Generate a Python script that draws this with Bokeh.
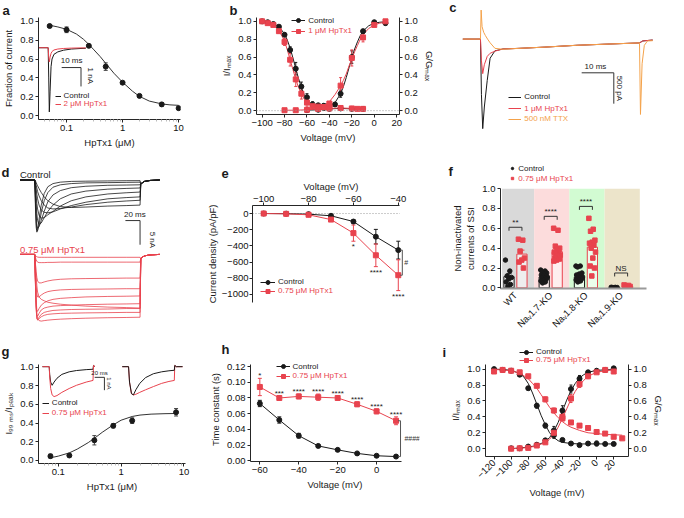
import math
from bokeh.plotting import figure
from bokeh.layouts import row, column
from bokeh.models import (Range1d, LinearScale, FixedTicker, NumeralTickFormatter,
                          CustomJSTickFormatter, LinearAxis, Label, Legend, LegendItem,
                          Whisker, TeeHead, ColumnDataSource, Span)
from bokeh.core.properties import value
from bokeh.embed import file_html
from bokeh.resources import INLINE

# ======================= DATA =======================
# (a) concentration-response
a_conc = [0.05, 0.1, 0.25, 0.5, 1, 2, 5, 10]
a_frac = [0.95, 0.91, 0.74, 0.52, 0.35, 0.21, 0.12, 0.08]
a_err = [0.015, 0.03, 0.015, 0.04, 0.012, 0.012, 0.02, 0.01]
a_fit_x = [0.05, 0.07, 0.1, 0.15, 0.2, 0.25, 0.3, 0.4, 0.5, 0.7, 1, 1.5, 2, 3, 5, 7, 10]
a_fit_y = [0.958, 0.94, 0.915, 0.865, 0.81, 0.755, 0.705, 0.625, 0.555, 0.45, 0.355, 0.26, 0.205, 0.155, 0.125, 0.115, 0.11]
a_tr_ms = [0, 5, 5.3, 5.6, 6.0, 6.5, 7, 8, 10, 13, 17, 22, 24.5]
a_tr_ctrl = [0, 0, -1.6, -3.4, -2.3, -1.0, -0.6, -0.35, -0.22, -0.13, -0.07, -0.04, -0.03]
a_tr_hp = [0, 0, -0.5, -0.75, -0.5, -0.3, -0.2, -0.12, -0.07, -0.04, -0.02, -0.01, -0.01]

# (b) inactivation / activation
b_inact_v = [-100, -95, -90, -85, -80, -75, -70, -65, -60, -55, -50, -45, -40]
b_inact_ctrl = [1.0, 0.99, 0.97, 0.94, 0.85, 0.68, 0.47, 0.27, 0.15, 0.07, 0.06, 0.055, 0.05]
b_inact_ctrl_err = [0.005, 0.01, 0.01, 0.015, 0.02, 0.035, 0.07, 0.05, 0.04, 0.03, 0.02, 0.02, 0.02]
b_inact_hp = [1.0, 0.98, 0.96, 0.89, 0.77, 0.57, 0.35, 0.19, 0.09, 0.05, 0.045, 0.04, 0.04]
b_inact_hp_err = [0.005, 0.01, 0.01, 0.02, 0.04, 0.07, 0.08, 0.06, 0.05, 0.03, 0.02, 0.02, 0.02]
b_act_ctrl_v = [-45, -40, -35, -30, -20, -10, 0, 10]
b_act_ctrl = [0.03, 0.05, 0.07, 0.19, 0.6, 0.89, 0.99, 0.98]
b_act_ctrl_err = [0.01, 0.01, 0.02, 0.04, 0.07, 0.02, 0.01, 0.02]
b_act_hp_v = [-50, -45, -40, -30, -20, -10, 0, 10]
b_act_hp = [0.03, 0.04, 0.08, 0.28, 0.59, 0.82, 0.96, 1.0]
b_act_hp_err = [0.01, 0.01, 0.02, 0.09, 0.09, 0.05, 0.02, 0.02]
b_pers_ctrl_v = [-60, -50, -40, -30, -20, -10]
b_pers_ctrl = [0.005, 0.01, 0.02, 0.025, 0.02, 0.02]
b_pers_hp_v = [-80, -70, -60, -50, -40, -30, -20, -15, -10]
b_pers_hp = [0.005, 0.005, 0.01, 0.02, 0.025, 0.03, 0.025, 0.02, 0.02]
b_fit_inact_v = [-100, -95, -90, -85, -80, -77.5, -75, -72.5, -70, -67.5, -65, -62.5, -60, -57.5, -55, -50, -45, -40]
b_fit_inact_ctrl = [1.0, 0.99, 0.975, 0.94, 0.86, 0.79, 0.70, 0.59, 0.47, 0.36, 0.26, 0.18, 0.125, 0.09, 0.07, 0.055, 0.05, 0.05]
b_fit_inact_hp = [1.0, 0.985, 0.96, 0.9, 0.78, 0.68, 0.57, 0.46, 0.35, 0.26, 0.19, 0.13, 0.09, 0.07, 0.06, 0.045, 0.04, 0.04]
b_fit_act_v = [-50, -45, -40, -35, -30, -27.5, -25, -22.5, -20, -17.5, -15, -12.5, -10, -5, 0, 5, 10]
b_fit_act_ctrl = [0.03, 0.035, 0.045, 0.09, 0.19, 0.27, 0.37, 0.48, 0.59, 0.69, 0.77, 0.84, 0.89, 0.95, 0.98, 0.99, 0.995]
b_fit_act_hp = [0.04, 0.06, 0.1, 0.18, 0.28, 0.34, 0.41, 0.5, 0.58, 0.66, 0.73, 0.8, 0.85, 0.92, 0.96, 0.98, 0.99]

# (c) current traces (ms, pA)
c_ms = [-5.5, 0, 0.3, 0.7, 1.2, 2.1, 3.0, 4.5, 7, 12, 20, 30, 40, 49.5, 50.5, 53.6]
c_ctrl = [0, 0, -900, -1450, -1100, -670, -310, -190, -160, -150, -130, -100, -80, -62, -30, -15]
c_hp = [0, 0, -350, -560, -415, -280, -230, -195, -160, -150, -130, -100, -80, -62, -30, -15]
c_ttx_ms = [-5.5, 0, 0.2, 0.5, 1.0, 1.5, 2.2, 3, 4.5, 7, 12, 20, 30, 40, 49.5, 49.8, 50.3, 51, 52, 53.6]
c_ttx = [0, 0, 470, 200, 110, 60, 0, -60, -150, -165, -150, -130, -100, -80, -62, -1220, -400, -100, -30, -26]

# (d) current families (ms, nA)
d_ms = [-20, 0, 1, 2, 3, 4, 6, 9, 13, 18, 25, 35, 50, 70, 100, 125, 144]
d_tail_ms = [145, 150, 158, 171]
d_tail = [-0.8, -0.3, -0.1, 0]
d_ctrl = [
    [0, 0, -5.4, -9.7, -10.8, -10.3, -8.1, -5.2, -2.8, -1.4, -0.75, -0.45, -0.3, -0.25, -0.2, -0.15, -0.14],
    [0, 0, -4.3, -8.6, -10.4, -10.5, -9.2, -6.8, -4.3, -2.6, -1.5, -1.0, -0.75, -0.6, -0.55, -0.5, -0.46],
    [0, 0, -3.2, -7.0, -9.5, -10.0, -9.7, -8.4, -6.5, -4.5, -3.1, -2.2, -1.6, -1.3, -1.1, -1.05, -1.0],
    [0, 0, -2.2, -4.9, -7.0, -8.4, -9.2, -8.9, -7.8, -6.5, -5.2, -3.9, -2.9, -2.3, -1.9, -1.75, -1.66],
    [0, 0, -1.3, -3.2, -4.9, -6.0, -7.3, -7.9, -7.8, -7.2, -6.5, -5.4, -4.3, -3.5, -2.9, -2.65, -2.5],
    [0, 0, -0.8, -1.9, -3.0, -3.9, -5.2, -6.2, -6.7, -6.8, -6.6, -6.0, -5.3, -4.6, -3.9, -3.65, -3.5],
    [0, 0, -0.4, -1.1, -1.7, -2.4, -3.3, -4.3, -5.2, -5.8, -6.0, -5.9, -5.6, -5.1, -4.6, -4.35, -4.2],
    [0, 0, -0.2, -0.5, -0.9, -1.2, -1.8, -2.6, -3.5, -4.3, -5.0, -5.5, -5.7, -5.6, -5.4, -5.3, -5.2],
]
d_hp = [
    [0, 0, -5, -10, -12.5, -13.3, -13.7, -13.8, -13.7, -13.6, -13.5, -13.4, -13.3, -13.2, -13.1, -13.05, -13.0],
    [0, 0, -6, -11, -13.2, -13.6, -13.3, -12.9, -12.6, -12.4, -12.3, -12.2, -12.15, -12.1, -12.05, -12.0, -12.0],
    [0, 0, -6, -11.2, -13.3, -13.5, -13, -12.4, -12, -11.8, -11.6, -11.5, -11.4, -11.35, -11.3, -11.2, -11.2],
    [0, 0, -5.5, -10.5, -12.5, -12.8, -12.2, -11.5, -11.1, -10.9, -10.7, -10.6, -10.5, -10.4, -10.3, -10.25, -10.2],
    [0, 0, -5, -9.5, -11.5, -11.8, -11.2, -10.5, -10, -9.6, -9.3, -9.1, -8.95, -8.8, -8.7, -8.65, -8.6],
    [0, 0, -3.5, -6.5, -8.2, -8.8, -8.8, -8.4, -8.0, -7.7, -7.5, -7.35, -7.25, -7.2, -7.15, -7.1, -7.1],
    [0, 0, -1.8, -3.6, -4.8, -5.5, -5.9, -5.9, -5.7, -5.5, -5.3, -5.15, -5.05, -5.0, -4.95, -4.9, -4.9],
    [0, 0, -0.6, -1.1, -1.4, -1.6, -1.7, -1.7, -1.7, -1.65, -1.65, -1.6, -1.6, -1.6, -1.6, -1.6, -1.6],
    [0, 0, -0.2, -0.4, -0.5, -0.55, -0.6, -0.6, -0.6, -0.6, -0.6, -0.6, -0.6, -0.6, -0.6, -0.6, -0.6],
    [0, 0, -2, -4.5, -6.5, -7.8, -8.8, -9.3, -9.6, -9.9, -10.1, -10.3, -10.5, -10.7, -10.9, -11.0, -11.1],
]

# (e) current density
e_v = [-100, -90, -80, -70, -60, -50, -40]
e_ctrl = [0, -2, -8, -28, -99, -286, -452]
e_ctrl_err = [2, 3, 5, 8, 20, 90, 110]
e_hp = [0, -4, -16, -75, -242, -516, -762]
e_hp_err = [2, 4, 8, 15, 100, 140, 190]
e_sig_v = [-60, -50, -40]
e_sig = ["*", "****", "****"]

# (f) non-inactivated currents
f_cats = ["WT", "Na\u1d651.7-KO", "Na\u1d651.8-KO", "Na\u1d651.9-KO"]
f_ctrl_pts = [[0.28, 0.17, 0.12, 0.105, 0.09, 0.06, 0.035, 0.015],
              [0.18, 0.17, 0.16, 0.15, 0.14, 0.13, 0.12, 0.12, 0.11, 0.10, 0.10, 0.09, 0.08, 0.07, 0.06, 0.05],
              [0.22, 0.22, 0.21, 0.15, 0.14, 0.13, 0.12, 0.12, 0.11, 0.10, 0.10, 0.09, 0.08, 0.08, 0.07, 0.06],
              [0.006, 0.005, 0.004, 0.004, 0.003, 0.003]]
f_hp_pts = [[0.49, 0.48, 0.37, 0.30, 0.28, 0.26, 0.20],
            [0.60, 0.58, 0.42, 0.40, 0.38, 0.36, 0.35, 0.34, 0.33, 0.32, 0.30, 0.29, 0.28, 0.27],
            [0.70, 0.59, 0.57, 0.48, 0.46, 0.45, 0.43, 0.40, 0.36, 0.30, 0.22, 0.20, 0.12],
            [0.03, 0.025, 0.02, 0.015, 0.01, 0.008]]
f_ctrl_mean = [0.113, 0.11, 0.11, 0.004]
f_ctrl_sem = [0.03, 0.01, 0.012, 0.001]
f_hp_mean = [0.34, 0.365, 0.41, 0.016]
f_hp_sem = [0.04, 0.03, 0.045, 0.004]
f_sig = ["**", "****", "****", "NS"]
f_bg = ["#d9d9d9", "#fcdcdc", "#d2fbd2", "#ece4ca"]

# (g) I99ms/Ipeak
g_conc = [0.075, 0.15, 0.375, 0.75, 1.5, 7.5]
g_val = [0.045, 0.052, 0.215, 0.37, 0.425, 0.515]
g_err = [0.02, 0.012, 0.05, 0.022, 0.03, 0.04]
g_fit_x = [0.075, 0.1, 0.15, 0.2, 0.3, 0.4, 0.5, 0.75, 1, 1.5, 2, 3, 5, 7.5]
g_fit_y = [0.027, 0.045, 0.08, 0.12, 0.19, 0.25, 0.3, 0.38, 0.43, 0.47, 0.485, 0.495, 0.5, 0.502]
g_l_ms = [0, 14, 15, 17, 20, 24, 30, 40, 55, 70, 90, 104, 105, 108]
g_l_ctrl = [0, 0, -0.6, -1.2, -1.45, -1.2, -0.9, -0.6, -0.4, -0.3, -0.23, -0.2, 0.1, 0]
g_l_hp = [0, 0, -0.8, -1.7, -2.2, -2.33, -2.25, -2.0, -1.7, -1.45, -1.2, -1.07, 0.1, 0]
g_r_ms = [164, 177, 179, 183, 187, 192, 200, 212, 228, 245, 260, 271, 272, 275, 288]
g_r_ctrl = [0, 0, -1.2, -2.1, -2.2, -1.8, -1.3, -0.85, -0.55, -0.4, -0.32, -0.28, 0.1, 0, 0]
g_r_hp = [0, 0, -1.2, -2.1, -2.2, -2.15, -2.0, -1.8, -1.55, -1.3, -1.15, -1.07, 0.1, 0, 0]

# (h) time constants
h_v = [-60, -50, -40, -30, -20, -10, 0, 10]
h_ctrl = [0.073, 0.052, 0.032, 0.019, 0.014, 0.0095, 0.0065, 0.0055]
h_ctrl_err = [0.004, 0.004, 0.003, 0.001, 0.001, 0.001, 0.001, 0.0008]
h_hp = [0.094, 0.080, 0.082, 0.081, 0.080, 0.072, 0.063, 0.051]
h_hp_err = [0.011, 0.002, 0.003, 0.004, 0.002, 0.003, 0.003, 0.005]
h_sig = ["*", "***", "****", "****", "****", "****", "****", "****"]

# (i) inactivation / activation
i_inact_v = [-120, -110, -100, -90, -80, -70, -60, -50, -40, -30, -20, -10, 0, 10, 20]
i_inact_ctrl = [1.0, 0.99, 0.98, 0.93, 0.76, 0.54, 0.29, 0.17, 0.11, 0.065, 0.045, 0.065, 0.065, 0.06, 0.06]
i_inact_ctrl_err = [0.01, 0.01, 0.01, 0.02, 0.02, 0.03, 0.03, 0.04, 0.01, 0.01, 0.02, 0.02, 0.03, 0.01, 0.02]
i_inact_hp_v = [-120, -110, -100, -90, -80, -70, -60, -50, -40, -30, -20, -10, 0, 10, 20, 30]
i_inact_hp = [0.97, 0.99, 0.98, 0.96, 0.91, 0.79, 0.62, 0.48, 0.38, 0.33, 0.29, 0.26, 0.21, 0.19, 0.15, 0.13]
i_inact_hp_err = [0.01, 0.01, 0.01, 0.02, 0.02, 0.02, 0.03, 0.03, 0.03, 0.02, 0.01, 0.01, 0.01, 0.01, 0.01, 0.01]
i_act_v = [-100, -90, -80, -70, -60, -50, -40, -30, -20, -10, 0, 10, 20]
i_act_ctrl = [0.005, 0.005, 0.027, 0.05, 0.105, 0.23, 0.48, 0.75, 0.88, 0.96, 0.98, 0.99, 1.01]
i_act_ctrl_err = [0.005, 0.005, 0.01, 0.01, 0.02, 0.05, 0.06, 0.05, 0.04, 0.02, 0.01, 0.01, 0.02]
i_act_hp = [0.0, 0.005, 0.01, 0.04, 0.08, 0.2, 0.4, 0.63, 0.81, 0.91, 0.96, 0.99, 0.97]
i_act_hp_err = [0.005, 0.005, 0.01, 0.01, 0.02, 0.03, 0.04, 0.05, 0.04, 0.03, 0.01, 0.01, 0.02]
i_fit_inact_v = [-120, -110, -100, -90, -85, -80, -75, -70, -65, -60, -55, -50, -45, -40, -30, -20, 0, 20]
i_fit_inact_ctrl = [1.0, 0.995, 0.985, 0.945, 0.9, 0.82, 0.7, 0.56, 0.42, 0.3, 0.2, 0.14, 0.1, 0.08, 0.065, 0.06, 0.06, 0.06]
i_fit_inact_hp_v = [-120, -110, -100, -90, -80, -75, -70, -65, -60, -55, -50, -45, -40, -35, -30, -20, -10, 0, 10, 20, 30]
i_fit_inact_hp = [0.995, 0.99, 0.98, 0.95, 0.88, 0.82, 0.76, 0.68, 0.6, 0.52, 0.45, 0.39, 0.34, 0.3, 0.27, 0.23, 0.2, 0.19, 0.18, 0.175, 0.17]
i_fit_act_v = [-100, -90, -80, -70, -60, -55, -50, -45, -40, -35, -30, -25, -20, -15, -10, 0, 10, 20]
i_fit_act_ctrl = [0.0, 0.01, 0.02, 0.04, 0.09, 0.14, 0.22, 0.33, 0.47, 0.61, 0.73, 0.82, 0.89, 0.93, 0.96, 0.985, 0.99, 0.995]
i_fit_act_hp = [0.0, 0.005, 0.015, 0.035, 0.08, 0.12, 0.18, 0.27, 0.38, 0.5, 0.62, 0.72, 0.8, 0.86, 0.91, 0.96, 0.98, 0.99]

# ======================= STYLE / HELPERS =======================
SX = 666 / 684
SY = 500 / 518
FONT = "Liberation Sans"
BLACK = "#1a1a1a"
RED = "#e8434e"
ORANGE = "#f4a24a"
AXC = "#262626"
EBC = "#444444"
TICKFS = "9.5px"
LABFS = "9.5px"
LEGFS = "8px"
NAN = float("nan")
GEOM = {}


def mkfig(cell, frame, **kw):
    cx0, cy0, cx1, cy1 = cell
    fl, ft, fr, fb = frame
    X0, X1 = round(cx0 * SX), round(cx1 * SX)
    Y0, Y1 = round(cy0 * SY), round(cy1 * SY)
    W, H = X1 - X0, Y1 - Y0
    L = round(fl * SX) - X0
    R = X1 - round(fr * SX)
    T = round(ft * SY) - Y0
    B = Y1 - round(fb * SY)
    p = figure(width=W, height=H, min_border_left=L, min_border_right=R,
               min_border_top=T, min_border_bottom=B,
               toolbar_location=None, output_backend="svg", **kw)
    p.outline_line_color = None
    p.grid.visible = False
    GEOM[p.id] = (X0, Y0, W, H, L, T, R, B)
    return p


def header(cell):
    return mkfig(cell, cell, x_axis_type=None, y_axis_type=None,
                 x_range=Range1d(0, 1), y_range=Range1d(0, 1))


def base_style(p, lab_standoff=3, tick_standoff=2):
    for ax in p.axis:
        ax.axis_line_color = AXC
        ax.axis_line_width = 1
        ax.major_tick_line_color = AXC
        ax.major_tick_out = 3
        ax.major_tick_in = 0
        ax.minor_tick_line_color = None
        ax.major_label_text_font = FONT
        ax.major_label_text_font_size = TICKFS
        ax.major_label_text_color = "#111111"
        ax.major_label_standoff = tick_standoff
        ax.axis_label_text_font = FONT
        ax.axis_label_text_font_size = LABFS
        ax.axis_label_text_font_style = "normal"
        ax.axis_label_text_color = BLACK
        ax.axis_label_standoff = lab_standoff


def scr(p, ax, ay):
    X0, Y0, W, H, L, T, R, B = GEOM[p.id]
    cx = ax * SX - X0
    cy = ay * SY - Y0
    return cx - L, (H - B) - cy


def lab(p, ax, ay, text, fs=LABFS, color=BLACK, align="left", baseline="middle", angle=0.0, style="normal"):
    sx, sy = scr(p, ax, ay)
    p.add_layout(Label(x=sx, y=sy, x_units="screen", y_units="screen", text=text,
                       text_font=FONT, text_font_size=fs, text_color=color,
                       text_align=align, text_baseline=baseline, angle=angle,
                       text_font_style=style))


def letter(p, ax, ay, t):
    lab(p, ax, ay, t, fs="13px", style="bold")


def title_letter(p, ax, t, standoff=0):
    X0, Y0, W, H, L, T, R, B = GEOM[p.id]
    p.title.text = t
    p.title.align = "left"
    p.title.offset = ax * SX - X0 - L
    p.title.text_font = FONT
    p.title.text_font_size = "13px"
    p.title.text_font_style = "bold"
    p.title.text_color = BLACK
    p.title.standoff = standoff


def leg(p, gx, gy, rends, text, color, gw):
    sx, sy = scr(p, gx, gy)
    lg = Legend(items=[LegendItem(label=value(text), renderers=rends)], location=(sx, sy - 5),
                padding=0, margin=0, spacing=0, border_line_color=None, background_fill_alpha=0.0,
                glyph_width=max(3, round(gw * SX)), glyph_height=10, label_height=10, label_standoff=3,
                label_text_font=FONT, label_text_font_size=LEGFS, label_text_color=color)
    p.add_layout(lg)


def ebar(p, xs, ys, es, color, head=4, lower=True, **kw):
    up = [y + e for y, e in zip(ys, es)]
    lo = [y - e for y, e in zip(ys, es)] if lower else list(ys)
    src = ColumnDataSource(dict(x=list(xs), up=up, lo=lo))
    w = Whisker(source=src, base="x", upper="up", lower="lo", line_color=color, line_width=1,
                upper_head=TeeHead(size=head, line_color=color, line_width=1),
                lower_head=(TeeHead(size=head, line_color=color, line_width=1) if lower else None), **kw)
    p.add_layout(w)


def minus_fmt():
    return CustomJSTickFormatter(code="return (tick < 0 ? '\u2212' : '') + Math.abs(tick).toFixed(0);")


def iso(x):
    return column(x)


UNIT_TICKS = [0, 0.2, 0.4, 0.6, 0.8, 1.0]
IMAX = "I/I\u2098\u2090\u2093"
GMAX = "G/G\u2098\u2090\u2093"

# ======================= PANEL a =======================
pa = mkfig((0, 0, 224, 170), (38, 15, 185, 123), x_axis_type="log",
           x_range=Range1d(0.0316, 10.8), y_range=Range1d(-0.04, 1.04))
pa.extra_x_ranges = {"ms": Range1d(0, 73.5)}
pa.extra_x_scales = {"ms": LinearScale()}
pa.extra_y_ranges = {"nA": Range1d(-3.8, 1.6)}
pa.xaxis.ticker = FixedTicker(ticks=[0.1, 1, 10],
                              minor_ticks=[0.04, 0.05, 0.06, 0.07, 0.08, 0.09, 0.2, 0.3, 0.4, 0.5, 0.6, 0.7,
                                           0.8, 0.9, 2, 3, 4, 5, 6, 7, 8, 9])
pa.xaxis.formatter = CustomJSTickFormatter(code="return tick >= 1 ? tick.toFixed(0) : tick.toFixed(1);")
pa.yaxis.ticker = FixedTicker(ticks=UNIT_TICKS)
pa.yaxis.formatter = NumeralTickFormatter(format="0.0")
pa.xaxis.axis_label = "HpTx1 (\u03bcM)"
pa.yaxis.axis_label = "Fraction of current"
base_style(pa)
pa.xaxis.minor_tick_line_color = "#bbbbbb"
pa.xaxis.minor_tick_out = 2
pa.xaxis.minor_tick_in = 0

ra_c = pa.line(a_tr_ms, a_tr_ctrl, x_range_name="ms", y_range_name="nA", line_color=BLACK, line_width=1)
ra_h = pa.line(a_tr_ms, a_tr_hp, x_range_name="ms", y_range_name="nA", line_color=RED, line_width=1)
A_BAR_MS, A_BAR_NA = 10, 1
a_bx, a_by = 12, -1.05
pa.line([a_bx, a_bx + A_BAR_MS, a_bx + A_BAR_MS], [a_by, a_by, a_by - A_BAR_NA],
        x_range_name="ms", y_range_name="nA", line_color="#333333", line_width=1)
pa.line(a_fit_x, a_fit_y, line_color="#333333", line_width=1)
ebar(pa, a_conc, a_frac, a_err, EBC)
pa.scatter(a_conc, a_frac, size=5, marker="circle", color=BLACK)
lab(pa, 72, 67, "10 ms", fs="8px", align="center", baseline="bottom")
lab(pa, 91, 78, "1 nA", fs="8px", align="center", angle=-math.pi / 2)
leg(pa, 55, 99, [ra_c], "Control", BLACK, 6)
leg(pa, 55, 107.5, [ra_h], "2 \u03bcM HpTx1", RED, 6)
title_letter(pa, 1, "a")

# ======================= PANEL b =======================
pb = mkfig((224, 0, 456, 170), (257, 17, 410, 118),
           x_range=Range1d(-105, 22.5), y_range=Range1d(-0.043, 1.043))
pb.add_layout(LinearAxis(axis_label=GMAX), "right")
pb.xaxis.ticker = FixedTicker(ticks=[-100, -80, -60, -40, -20, 0, 20])
pb.xaxis.formatter = minus_fmt()
pb.yaxis.ticker = FixedTicker(ticks=UNIT_TICKS)
pb.yaxis.formatter = NumeralTickFormatter(format="0.0")
pb.xaxis.axis_label = "Voltage (mV)"
pb.yaxis[0].axis_label = IMAX
base_style(pb)
pb.add_layout(Span(location=0, dimension="width", line_color="#9a9a9a", line_dash="1 2", line_width=1))

lb_c = pb.line(b_fit_inact_v, b_fit_inact_ctrl, line_color=BLACK, line_width=1)
pb.line(b_fit_act_v, b_fit_act_ctrl, line_color=BLACK, line_width=1)
pb.line(b_pers_ctrl_v, b_pers_ctrl, line_color=BLACK, line_width=1)
lb_h = pb.line(b_fit_inact_v, b_fit_inact_hp, line_color=RED, line_width=1)
pb.line(b_fit_act_v, b_fit_act_hp, line_color=RED, line_width=1)
pb.line(b_pers_hp_v, b_pers_hp, line_color=RED, line_width=1)
ebar(pb, b_inact_v, b_inact_ctrl, b_inact_ctrl_err, BLACK, head=3)
ebar(pb, b_act_ctrl_v, b_act_ctrl, b_act_ctrl_err, BLACK, head=3)
ebar(pb, b_inact_v, b_inact_hp, b_inact_hp_err, RED, head=3)
ebar(pb, b_act_hp_v, b_act_hp, b_act_hp_err, RED, head=3)
sb_c = pb.scatter(b_inact_v, b_inact_ctrl, marker="circle", size=5, color=BLACK)
pb.scatter(b_act_ctrl_v, b_act_ctrl, marker="circle", size=5, color=BLACK)
pb.scatter(b_pers_ctrl_v, b_pers_ctrl, marker="circle", size=5, color=BLACK)
sb_h = pb.scatter(b_inact_v, b_inact_hp, marker="square", size=5, color=RED)
pb.scatter(b_act_hp_v, b_act_hp, marker="square", size=5, color=RED)
pb.scatter(b_pers_hp_v, b_pers_hp, marker="square", size=5, color=RED)
leg(pb, 293, 21, [lb_c, sb_c], "Control", BLACK, 14)
leg(pb, 293, 32, [lb_h, sb_h], "1 \u03bcM HpTx1", RED, 14)
title_letter(pb, 229, "b")

# ======================= PANEL c =======================
pc = mkfig((456, 0, 684, 170), (456, 0, 684, 170), x_axis_type=None, y_axis_type=None,
           x_range=Range1d(-11.2, 57.9), y_range=Range1d(-2031, 625))
rc1 = pc.line(c_ms, c_ctrl, line_color=BLACK, line_width=1)
rc2 = pc.line(c_ms, c_hp, line_color=RED, line_width=1)
rc3 = pc.line(c_ttx_ms, c_ttx, line_color=ORANGE, line_width=1)
C_BAR_MS, C_BAR_PA = 10, 500
c_bx, c_by = 31.5, -546
pc.line([c_bx, c_bx + C_BAR_MS, c_bx + C_BAR_MS], [c_by, c_by, c_by - C_BAR_PA], line_color="#333333", line_width=1)
lab(pc, 611, 73, "10 ms", fs="8px", align="center", baseline="bottom")
lab(pc, 636, 91, "500 pA", fs="8px", align="center", angle=-math.pi / 2)
leg(pc, 522, 100, [rc1], "Control", BLACK, 13)
leg(pc, 522, 112, [rc2], "1 \u03bcM HpTx1", RED, 13)
leg(pc, 522, 123, [rc3], "500 nM TTX", ORANGE, 13)
letter(pc, 461, 7, "c")

# ======================= PANEL d =======================
pd_ = mkfig((0, 170, 208, 350), (0, 170, 208, 350), x_axis_type=None, y_axis_type=None,
            x_range=Range1d(-46.7, 230.7), y_range=Range1d(-32.8, 3.2))
pd_.extra_y_ranges = {"hp": Range1d(-17.4, 18.6)}
for tr in d_ctrl:
    pd_.line(d_ms + d_tail_ms, tr + d_tail, line_color=BLACK, line_width=0.8)
for tr in d_hp:
    pd_.line(d_ms + d_tail_ms, tr + d_tail, y_range_name="hp", line_color=RED, line_width=0.8)
D_BAR_MS, D_BAR_NA = 20, 5
d_bx, d_by = 124, -8.4
pd_.line([d_bx, d_bx + D_BAR_MS, d_bx + D_BAR_MS], [d_by, d_by, d_by - D_BAR_NA], line_color="#333333", line_width=1)
lab(pd_, 138, 226, "20 ms", fs="8px", align="center", baseline="bottom")
lab(pd_, 156.5, 248, "5 nA", fs="8px", align="center", angle=-math.pi / 2)
lab(pd_, 20, 180, "Control", fs="9.5px")
lab(pd_, 20, 258, "0.75 \u03bcM HpTx1", fs="9.5px", color=RED)
letter(pd_, 1, 178, "d")

# ======================= PANEL e =======================
E_XB = (-105, -39.3)
pe = mkfig((208, 170, 455, 350), (256.7, 212.7, 420, 313.3), x_axis_location="above",
           x_range=Range1d(-105, -35.0), y_range=Range1d(-1099, 99))
pe.xaxis.ticker = FixedTicker(ticks=[-100, -80, -60, -40])
pe.xaxis.formatter = minus_fmt()
pe.xaxis.bounds = E_XB
pe.yaxis.ticker = FixedTicker(ticks=[0, -200, -400, -600, -800, -1000])
pe.yaxis.formatter = minus_fmt()
pe.xaxis.axis_label = "Voltage (mV)"
pe.yaxis.axis_label = "Current density (pA/pF)"
base_style(pe, lab_standoff=1, tick_standoff=1)
pe.line(list(E_XB), [0, 0], line_color="#9a9a9a", line_dash="1 2", line_width=1)
le_c = pe.line(e_v, e_ctrl, line_color=BLACK, line_width=1)
le_h = pe.line(e_v, e_hp, line_color=RED, line_width=1)
ebar(pe, e_v, e_ctrl, e_ctrl_err, BLACK, head=4)
ebar(pe, e_v, e_hp, e_hp_err, RED, head=4)
se_c = pe.scatter(e_v, e_ctrl, marker="circle", size=5, color=BLACK)
se_h = pe.scatter(e_v, e_hp, marker="square", size=5, color=RED)
e_idx = [e_v.index(v) for v in e_sig_v]
pe.text(x=e_sig_v, y=[e_hp[k] - e_hp_err[k] for k in e_idx], text=e_sig, text_font=value(FONT),
        text_font_size="8px", text_align="center", text_baseline="top", y_offset=1, text_color=BLACK)
e_bx = e_v[-1] + 1.8
pe.line([e_bx - 1.0, e_bx, e_bx, e_bx - 1.0], [e_ctrl[-1], e_ctrl[-1], e_hp[-1], e_hp[-1]],
        line_color="#555555", line_width=1)
pe.add_layout(Label(x=e_bx + 0.9, y=(e_ctrl[-1] + e_hp[-1]) / 2, text="#", text_font=FONT,
                    text_font_size="7px", text_align="left", text_baseline="middle", text_color="#333333"))
leg(pe, 265, 291.7, [le_c, se_c], "Control", BLACK, 15)
leg(pe, 265, 301, [le_h, se_h], "0.75 \u03bcM HpTx1", RED, 15)
title_letter(pe, 225, "e")

# ======================= PANEL f =======================
hf = header((455, 170, 684, 191))
hf_c = hf.scatter([NAN], [NAN], marker="circle", size=4.5, color=BLACK)
hf_h = hf.scatter([NAN], [NAN], marker="square", size=4.5, color=RED)
leg(hf, 523, 174.5, [hf_c], "Control", BLACK, 6)
leg(hf, 523, 184.5, [hf_h], "0.75 \u03bcM HpTx1", RED, 6)
letter(hf, 460, 177, "f")

pf = mkfig((455, 191, 684, 350), (513.3, 194.3, 663, 298.3),
           x_range=Range1d(-0.425, 3.72), y_range=Range1d(-0.006, 1.0))
pf.xaxis.ticker = FixedTicker(ticks=[0, 1, 2, 3])
pf.xaxis.formatter = CustomJSTickFormatter(args=dict(labels=f_cats), code="return labels[Math.round(tick)];")
pf.yaxis.ticker = FixedTicker(ticks=UNIT_TICKS)
pf.yaxis.formatter = NumeralTickFormatter(format="0.0")
pf.yaxis.axis_label = "Non-inactivated\ncurrents of SSI"
base_style(pf)
pf.xaxis.major_label_orientation = math.pi / 4
pf.xaxis.major_label_text_font_size = "9.5px"
pf.xaxis.major_tick_line_color = None
pf.xaxis.axis_line_color = "#9a9a9a"
pf.xaxis.axis_line_width = 2
f_idx = list(range(len(f_cats)))
pf.quad(left=[max(i - 0.47, -0.38) for i in f_idx], right=[i + 0.53 for i in f_idx], bottom=0, top=1.0,
        fill_color=f_bg, line_color=None, level="image")
OFF, BW = 0.184, 0.29
pf.vbar(x=[i - OFF for i in f_idx], top=f_ctrl_mean, bottom=0, width=BW, fill_color="white",
        fill_alpha=0.55, line_color=BLACK, line_width=1)
pf.vbar(x=[i + OFF for i in f_idx], top=f_hp_mean, bottom=0, width=BW, fill_color="white",
        fill_alpha=0.55, line_color=RED, line_width=1)
ebar(pf, [i - OFF for i in f_idx], f_ctrl_mean, f_ctrl_sem, BLACK, head=5, lower=False)
ebar(pf, [i + OFF for i in f_idx], f_hp_mean, f_hp_sem, RED, head=5, lower=False)


def jit(n):
    return [(((k * 0.618034) % 1.0) - 0.5) * 0.2 for k in range(n)]


fx_c, fy_c, fx_h, fy_h = [], [], [], []
for i in f_idx:
    for j, v in zip(jit(len(f_ctrl_pts[i])), f_ctrl_pts[i]):
        fx_c.append(i - OFF + j)
        fy_c.append(v)
    for j, v in zip(jit(len(f_hp_pts[i])), f_hp_pts[i]):
        fx_h.append(i + OFF + j)
        fy_h.append(v)
pf.scatter(fx_c, fy_c, marker="circle", size=4.5, color=BLACK)
pf.scatter(fx_h, fy_h, marker="square", size=4.5, color=RED)
f_tops = [max(f_ctrl_pts[i] + f_hp_pts[i]) + 0.12 for i in f_idx]
for i in f_idx:
    t = f_tops[i]
    pf.line([i - OFF, i - OFF, i + OFF, i + OFF], [t - 0.035, t, t, t - 0.035], line_color="#333333", line_width=1)
pf.text(x=f_idx, y=f_tops, text=f_sig, text_font=value(FONT), text_font_size="8px", text_align="center",
        text_baseline="bottom", y_offset=0, text_color=BLACK)

# ======================= PANEL g =======================
hg = header((0, 350, 210, 372))
letter(hg, 1, 364, "g")
pg = mkfig((0, 372, 210, 518), (39, 376.7, 190, 479.3), x_axis_type="log",
           x_range=Range1d(0.0484, 10.6), y_range=Range1d(-0.034, 1.027))
pg.extra_x_ranges = {"ms": Range1d(-8, 294)}
pg.extra_x_scales = {"ms": LinearScale()}
pg.extra_y_ranges = {"nA": Range1d(-7.54, 0.17)}
pg.xaxis.ticker = FixedTicker(ticks=[0.1, 1, 10],
                              minor_ticks=[0.06, 0.07, 0.08, 0.09, 0.2, 0.3, 0.4, 0.5, 0.6, 0.7,
                                           0.8, 0.9, 2, 3, 4, 5, 6, 7, 8, 9])
pg.xaxis.formatter = CustomJSTickFormatter(code="return tick >= 1 ? tick.toFixed(0) : tick.toFixed(1);")
pg.yaxis.ticker = FixedTicker(ticks=UNIT_TICKS)
pg.yaxis.formatter = NumeralTickFormatter(format="0.0")
pg.xaxis.axis_label = "HpTx1 (\u03bcM)"
pg.yaxis.axis_label = "I\u2089\u2089 \u2098\u209b/I\u209a\u2091\u2090\u2096"
base_style(pg)
pg.xaxis.minor_tick_line_color = "#bbbbbb"
pg.xaxis.minor_tick_out = 2
pg.xaxis.minor_tick_in = 0
rg_c = pg.line(g_l_ms, g_l_ctrl, x_range_name="ms", y_range_name="nA", line_color=BLACK, line_width=1)
rg_h = pg.line(g_l_ms, g_l_hp, x_range_name="ms", y_range_name="nA", line_color=RED, line_width=1)
pg.line(g_r_ms, g_r_hp, x_range_name="ms", y_range_name="nA", line_color=RED, line_width=1)
pg.line(g_r_ms, g_r_ctrl, x_range_name="ms", y_range_name="nA", line_color=BLACK, line_width=1)
G_BAR_MS, G_BAR_NA = 20, 1
g_bx, g_by = 107.4, -0.83
pg.line([g_bx, g_bx + G_BAR_MS, g_bx + G_BAR_MS], [g_by, g_by, g_by - G_BAR_NA],
        x_range_name="ms", y_range_name="nA", line_color="#333333", line_width=1)
pg.line(g_fit_x, g_fit_y, line_color="#333333", line_width=1)
ebar(pg, g_conc, g_val, g_err, EBC)
pg.scatter(g_conc, g_val, marker="circle", size=5, color=BLACK)
lab(pg, 101.7, 389.5, "20 ms", fs="6px", align="center", baseline="bottom")
lab(pg, 111, 396.7, "1 nA", fs="6px", align="center", angle=-math.pi / 2)
leg(pg, 43, 417, [rg_c], "Control", BLACK, 7)
leg(pg, 43, 427.7, [rg_h], "0.75 \u03bcM HpTx1", RED, 7)

# ======================= PANEL h =======================
hh = header((210, 350, 452, 369))
letter(hh, 227, 362, "h")
H_XB = (-64.8, 12.9)
H_YB = (-0.0008, 0.1225)
ph = mkfig((210, 369, 452, 518), (256.7, 370, 430, 477.3),
           x_range=Range1d(-64.8, 22.05), y_range=Range1d(-0.0008, 0.1315))
ph.xaxis.ticker = FixedTicker(ticks=[-60, -40, -20, 0])
ph.xaxis.formatter = minus_fmt()
ph.xaxis.bounds = H_XB
ph.yaxis.ticker = FixedTicker(ticks=[0, 0.02, 0.04, 0.06, 0.08, 0.10, 0.12])
ph.yaxis.formatter = NumeralTickFormatter(format="0.00")
ph.yaxis.bounds = H_YB
ph.xaxis.axis_label = "Voltage (mV)"
ph.yaxis.axis_label = "Time constant (s)"
base_style(ph)
lh_c = ph.line(h_v, h_ctrl, line_color=BLACK, line_width=1)
lh_h = ph.line(h_v, h_hp, line_color=RED, line_width=1)
ebar(ph, h_v, h_ctrl, h_ctrl_err, BLACK, head=4)
ebar(ph, h_v, h_hp, h_hp_err, RED, head=4)
sh_c = ph.scatter(h_v, h_ctrl, marker="circle", size=5, color=BLACK)
sh_h = ph.scatter(h_v, h_hp, marker="square", size=5, color=RED)
ph.text(x=h_v, y=[v + e for v, e in zip(h_hp, h_hp_err)], text=h_sig, text_font=value(FONT),
        text_font_size="8px", text_align="center", text_baseline="bottom", y_offset=2, text_color=BLACK)
h_bx = h_v[-1] + 2.3
ph.line([h_bx - 1.3, h_bx, h_bx, h_bx - 1.3], [h_hp[-1], h_hp[-1], h_ctrl[-1], h_ctrl[-1]],
        line_color="#555555", line_width=1)
ph.add_layout(Label(x=h_bx + 2.0, y=(h_hp[-1] + h_ctrl[-1]) / 2, text="####", text_font=FONT,
                    text_font_size="7px", text_align="left", text_baseline="middle", text_color="#333333"))
leg(ph, 283, 379.3, [lh_c, sh_c], "Control", BLACK, 14)
leg(ph, 283, 389.3, [lh_h, sh_h], "0.75 \u03bcM HpTx1", RED, 14)

# ======================= PANEL i =======================
hi = header((452, 350, 684, 377))
hi_lc = hi.line([NAN, NAN], [NAN, NAN], line_color=BLACK, line_width=1)
hi_sc = hi.scatter([NAN], [NAN], marker="circle", size=5, color=BLACK)
hi_lh = hi.line([NAN, NAN], [NAN, NAN], line_color=RED, line_width=1)
hi_sh = hi.scatter([NAN], [NAN], marker="square", size=5, color=RED)
leg(hi, 533, 364.5, [hi_lc, hi_sc], "Control", BLACK, 14)
leg(hi, 533, 372.5, [hi_lh, hi_sh], "0.75 \u03bcM HpTx1", RED, 14)
letter(hi, 454, 365, "i")

pi_ = mkfig((452, 377, 684, 518), (497.7, 377.3, 648.3, 476.7),
            x_range=Range1d(-130, 37.3), y_range=Range1d(-0.098, 1.058))
pi_.add_layout(LinearAxis(axis_label=GMAX), "right")
pi_.xaxis.ticker = FixedTicker(ticks=[-120, -100, -80, -60, -40, -20, 0, 20])
pi_.xaxis.formatter = minus_fmt()
pi_.yaxis.ticker = FixedTicker(ticks=UNIT_TICKS)
pi_.yaxis.formatter = NumeralTickFormatter(format="0.0")
pi_.xaxis.axis_label = "Voltage (mV)"
pi_.yaxis[0].axis_label = IMAX
base_style(pi_)
pi_.xaxis.major_label_orientation = math.pi / 4
pi_.line(i_fit_inact_v, i_fit_inact_ctrl, line_color=BLACK, line_width=1)
pi_.line(i_fit_act_v, i_fit_act_ctrl, line_color=BLACK, line_width=1)
pi_.line(i_fit_inact_hp_v, i_fit_inact_hp, line_color=RED, line_width=1)
pi_.line(i_fit_act_v, i_fit_act_hp, line_color=RED, line_width=1)
ebar(pi_, i_inact_v, i_inact_ctrl, i_inact_ctrl_err, BLACK, head=3)
ebar(pi_, i_act_v, i_act_ctrl, i_act_ctrl_err, BLACK, head=3)
ebar(pi_, i_inact_hp_v, i_inact_hp, i_inact_hp_err, RED, head=3)
ebar(pi_, i_act_v, i_act_hp, i_act_hp_err, RED, head=3)
pi_.scatter(i_inact_v, i_inact_ctrl, marker="circle", size=5, color=BLACK)
pi_.scatter(i_act_v, i_act_ctrl, marker="circle", size=5, color=BLACK)
pi_.scatter(i_inact_hp_v, i_inact_hp, marker="square", size=5, color=RED)
pi_.scatter(i_act_v, i_act_hp, marker="square", size=5, color=RED)

# ======================= LAYOUT =======================
layout = column(
    row(iso(pa), iso(pb), iso(pc)),
    row(iso(pd_), iso(pe), iso(column(iso(hf), iso(pf)))),
    row(iso(column(iso(hg), iso(pg))), iso(column(iso(hh), iso(ph))), iso(column(iso(hi), iso(pi_)))),
)
html = file_html(layout, INLINE, title="HpTx1 figure")
with open("out.html", "w", encoding="utf-8") as fh:
    fh.write(html)
